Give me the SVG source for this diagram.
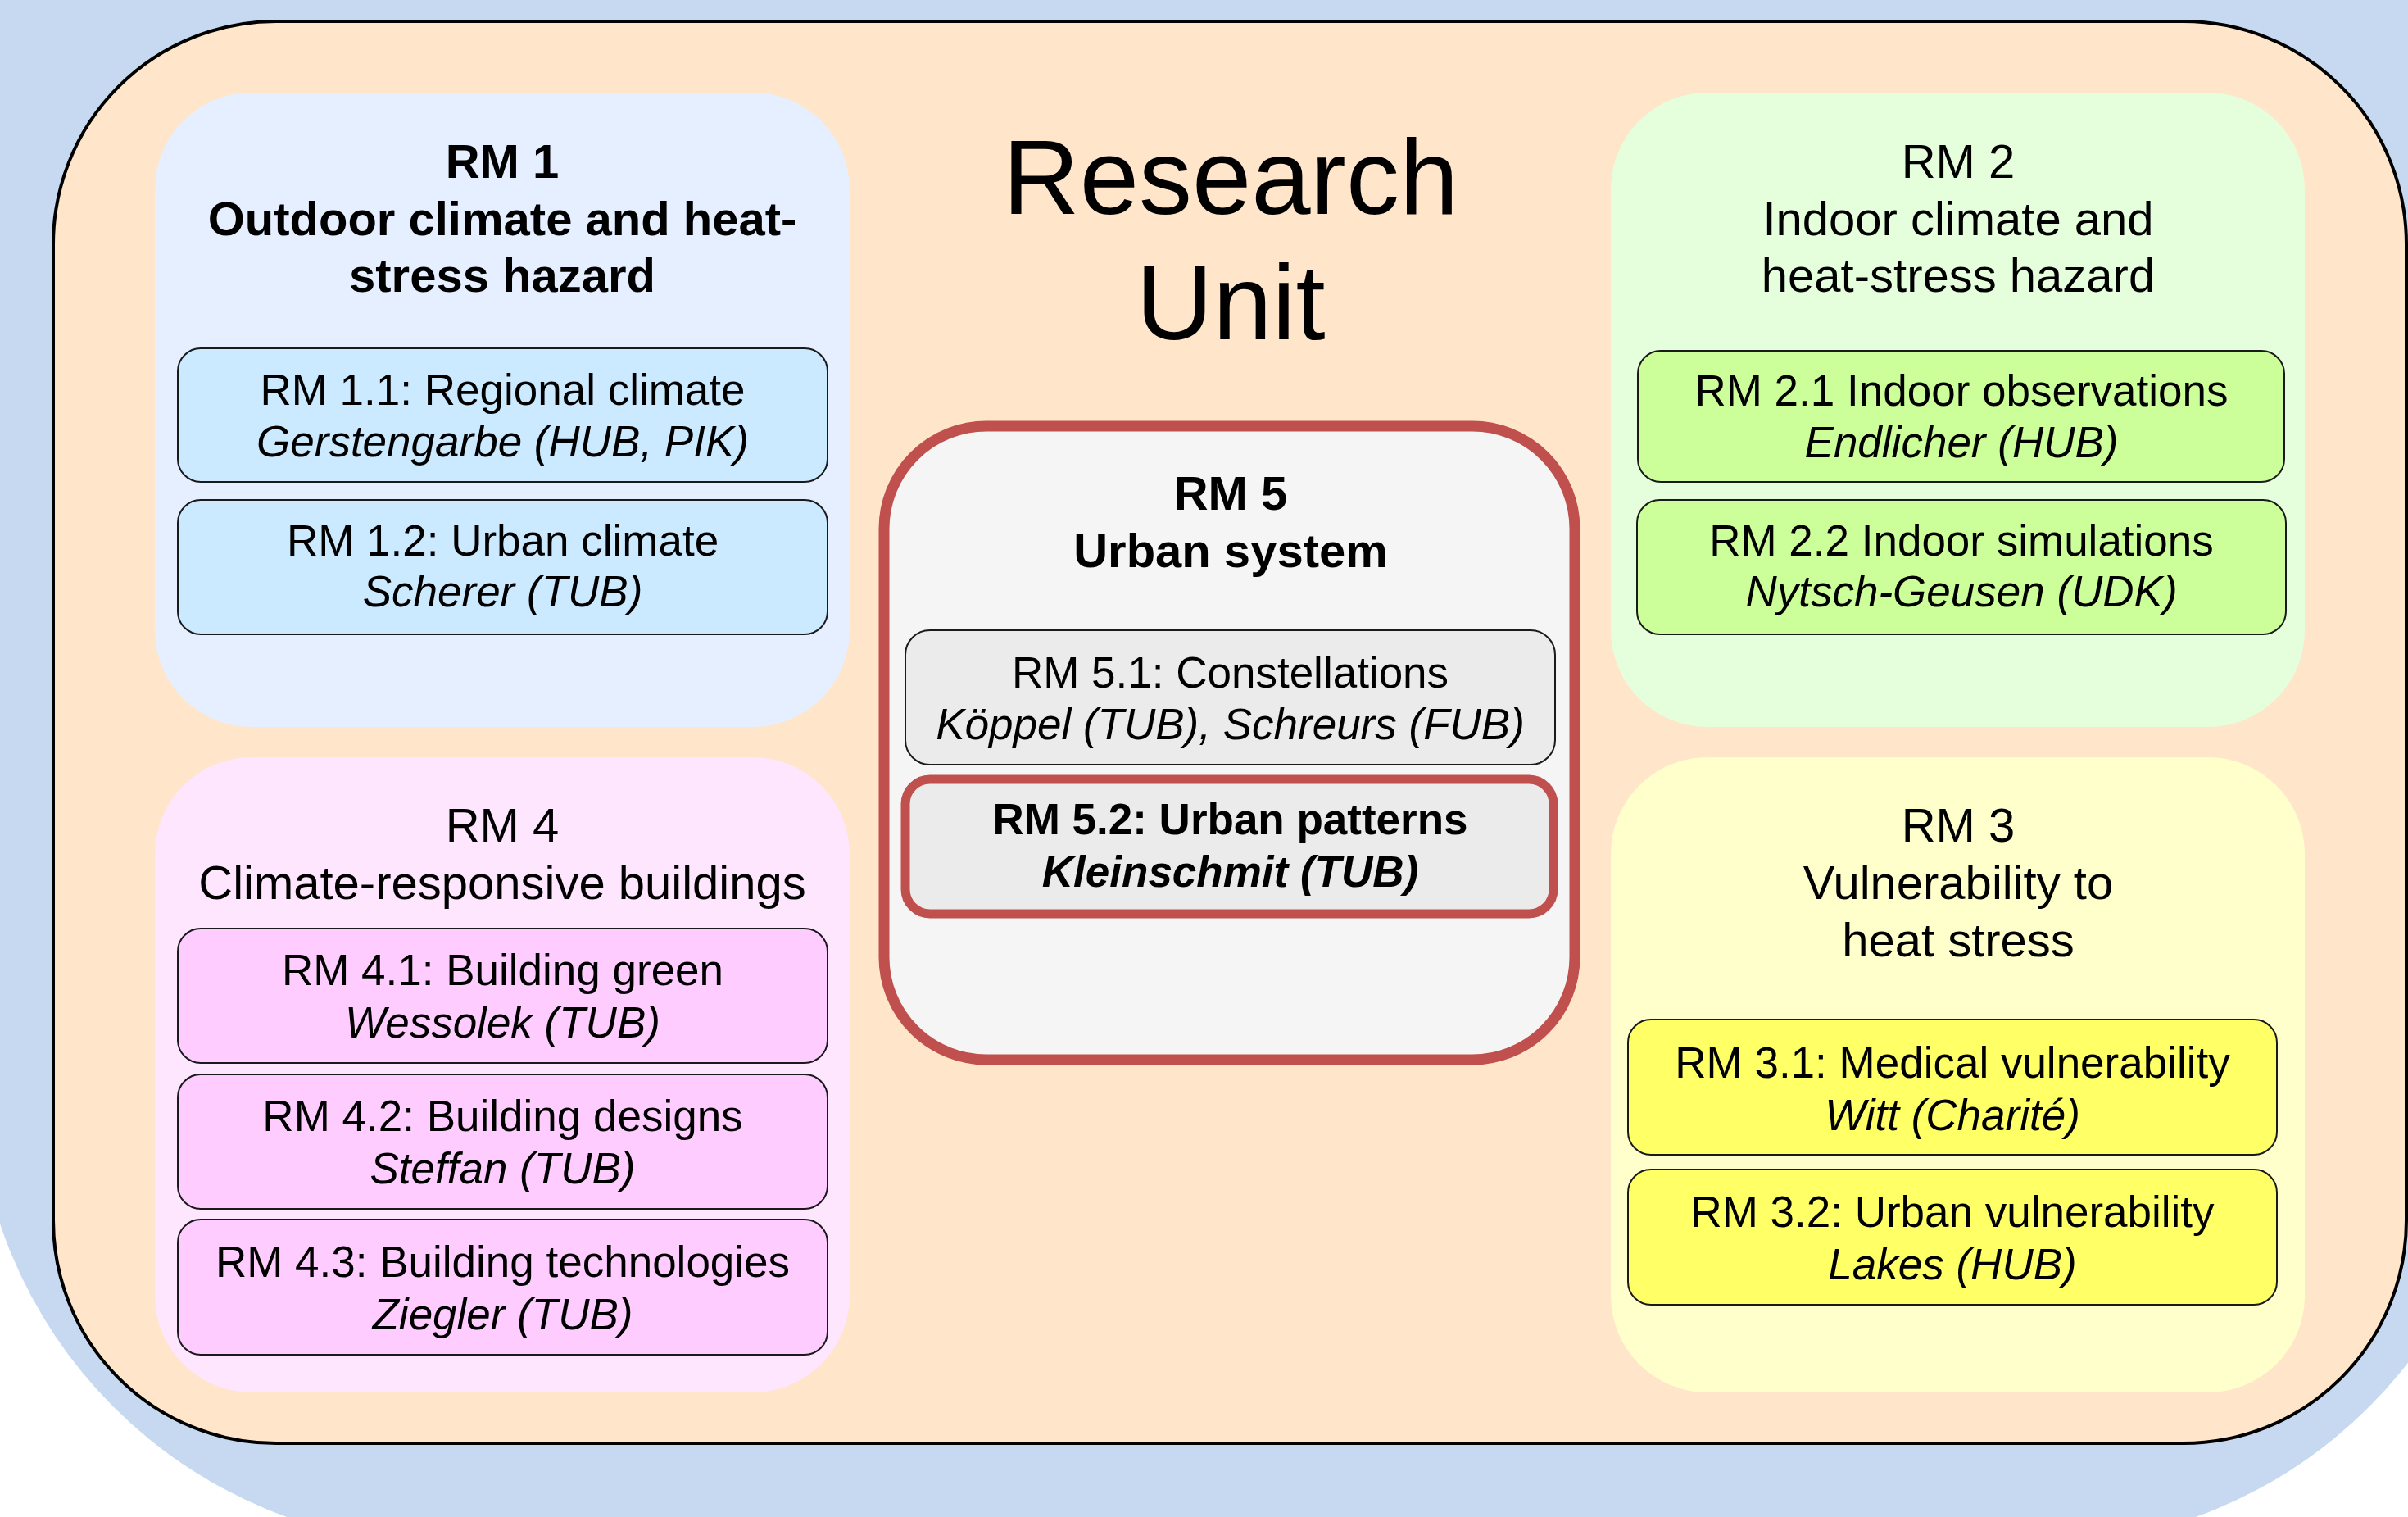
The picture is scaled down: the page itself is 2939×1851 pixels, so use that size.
<svg xmlns="http://www.w3.org/2000/svg" width="2939" height="1851" viewBox="0 0 2939 1851">
<style>
text{font-family:"Liberation Sans",Arial,sans-serif;fill:#000;text-anchor:middle}
.big{font-size:130px}
.t{font-size:58px}
.tb{font-size:58px;font-weight:bold}
.s{font-size:53px}
.si{font-size:53px;font-style:italic}
.sb{font-size:53px;font-weight:bold}
.sbi{font-size:53px;font-weight:bold;font-style:italic}
.sub{stroke:#1a1a1a;stroke-width:2}
.c1{fill:#cceaff}.c2{fill:#ccff99}.c3{fill:#ffff66}.c4{fill:#ffccff}.c5{fill:#ebebeb}
.red{stroke:#c0504d}
</style>
<rect width="2939" height="1851" fill="#ffffff"/>
<rect x="-30" y="-700" width="3090" height="2585" rx="575" fill="#c6d9f0"/>
<g id="research-unit">
<rect x="65" y="26" width="2872" height="1735" rx="272" fill="#ffe5ca" stroke="#000" stroke-width="4"/>
<text class="big" x="1502" y="261">Research</text>
<text class="big" x="1502" y="414">Unit</text>
</g>
<g id="rm1">
<rect x="189" y="113" width="848" height="774" rx="118" fill="#e5efff"/>
<text class="tb" x="613" y="217">RM 1</text>
<text class="tb" x="613" y="287">Outdoor climate and heat-</text>
<text class="tb" x="613" y="356">stress hazard</text>
</g>
<g id="rm1-1">
<rect class="sub c1" x="217" y="425" width="793" height="163" rx="28"/>
<text class="s" x="613.5" y="494">RM 1.1: Regional climate</text>
<text class="si" x="613.5" y="557">Gerstengarbe (HUB, PIK)</text>
</g>
<g id="rm1-2">
<rect class="sub c1" x="217" y="610" width="793" height="164" rx="28"/>
<text class="s" x="613.5" y="678">RM 1.2: Urban climate</text>
<text class="si" x="613.5" y="740">Scherer (TUB)</text>
</g>
<g id="rm2">
<rect x="1966" y="113" width="847" height="774" rx="118" fill="#e5ffdd"/>
<text class="t" x="2390" y="217">RM 2</text>
<text class="t" x="2390" y="287">Indoor climate and</text>
<text class="t" x="2390" y="356">heat-stress hazard</text>
</g>
<g id="rm2-1">
<rect class="sub c2" x="1999" y="428" width="789" height="160" rx="28"/>
<text class="s" x="2394" y="495">RM 2.1 Indoor observations</text>
<text class="si" x="2394" y="558">Endlicher (HUB)</text>
</g>
<g id="rm2-2">
<rect class="sub c2" x="1998" y="610" width="792" height="164" rx="28"/>
<text class="s" x="2394" y="678">RM 2.2 Indoor simulations</text>
<text class="si" x="2394" y="740">Nytsch-Geusen (UDK)</text>
</g>
<g id="rm4">
<rect x="189" y="924" width="848" height="775" rx="118" fill="#fee6fe"/>
<text class="t" x="613" y="1027">RM 4</text>
<text class="t" x="613" y="1097">Climate-responsive buildings</text>
</g>
<g id="rm4-1">
<rect class="sub c4" x="217" y="1133" width="793" height="164" rx="28"/>
<text class="s" x="613.5" y="1202">RM 4.1: Building green</text>
<text class="si" x="613.5" y="1266">Wessolek (TUB)</text>
</g>
<g id="rm4-2">
<rect class="sub c4" x="217" y="1311" width="793" height="164" rx="28"/>
<text class="s" x="613.5" y="1380">RM 4.2: Building designs</text>
<text class="si" x="613.5" y="1444">Steffan (TUB)</text>
</g>
<g id="rm4-3">
<rect class="sub c4" x="217" y="1488" width="793" height="165" rx="28"/>
<text class="s" x="613.5" y="1558">RM 4.3: Building technologies</text>
<text class="si" x="613.5" y="1622">Ziegler (TUB)</text>
</g>
<g id="rm3">
<rect x="1966" y="924" width="847" height="775" rx="118" fill="#ffffcc"/>
<text class="t" x="2390" y="1027">RM 3</text>
<text class="t" x="2390" y="1097">Vulnerability to</text>
<text class="t" x="2390" y="1167">heat stress</text>
</g>
<g id="rm3-1">
<rect class="sub c3" x="1987" y="1244" width="792" height="165" rx="28"/>
<text class="s" x="2383" y="1315">RM 3.1: Medical vulnerability</text>
<text class="si" x="2383" y="1379">Witt (Charité)</text>
</g>
<g id="rm3-2">
<rect class="sub c3" x="1987" y="1427" width="792" height="165" rx="28"/>
<text class="s" x="2383" y="1497">RM 3.2: Urban vulnerability</text>
<text class="si" x="2383" y="1561">Lakes (HUB)</text>
</g>
<g id="rm5">
<rect class="red" x="1079" y="520" width="843" height="773" rx="125" fill="#f5f5f5" stroke-width="13"/>
<text class="tb" x="1502" y="622">RM 5</text>
<text class="tb" x="1502" y="692">Urban system</text>
</g>
<g id="rm5-1">
<rect class="sub c5" x="1105" y="769" width="793" height="164" rx="30"/>
<text class="s" x="1501.5" y="839">RM 5.1: Constellations</text>
<text class="si" x="1501.5" y="902">Köppel (TUB), Schreurs (FUB)</text>
</g>
<g id="rm5-2">
<rect class="red c5" x="1105" y="951" width="791" height="164" rx="30" stroke-width="11"/>
<text class="sb" x="1501.5" y="1018">RM 5.2: Urban patterns</text>
<text class="sbi" x="1501.5" y="1082">Kleinschmit (TUB)</text>
</g>
<g id="connectors"/>
</svg>
